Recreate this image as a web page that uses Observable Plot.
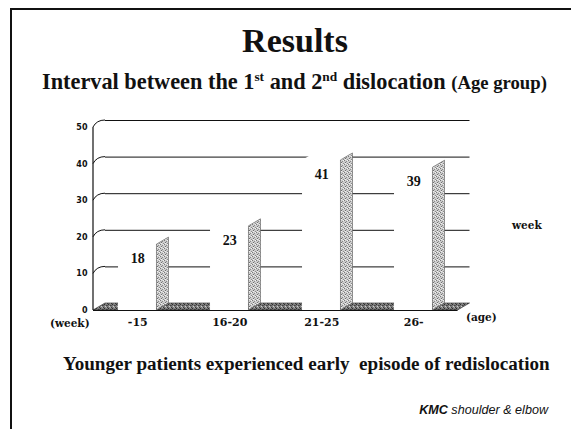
<!DOCTYPE html>
<html><head><meta charset="utf-8">
<script src="https://cdn.jsdelivr.net/npm/d3@7"></script>
<script src="https://cdn.jsdelivr.net/npm/@observablehq/plot@0.6"></script>
<style>
html,body{margin:0;padding:0;background:#fff;}
#page{position:relative;width:571px;height:429px;overflow:hidden;background:#fff;}
#chart{position:absolute;left:0;top:0;}
.t{position:absolute;white-space:pre;line-height:1;color:#111;}
.serif{font-family:"Liberation Serif","Times New Roman",serif;font-weight:bold;}
.dserif{font-family:"DejaVu Serif",serif;font-weight:bold;font-size:10.5px;}
sup{font-size:0.6em;vertical-align:0.6em;line-height:0;}
.bl{position:absolute;background:#111;}
</style></head>
<body><div id="page">
<div class="bl" style="left:10px;top:8px;width:2px;height:421px;"></div>
<div class="bl" style="left:10px;top:8px;width:561px;height:2px;"></div>
<div class="t serif" style="left:295px;top:23.5px;font-size:34px;transform:translateX(-50%);">Results</div>
<div class="t serif" style="left:42px;top:70.6px;font-size:22.3px;">Interval between the 1<sup>st</sup> and 2<sup>nd</sup> dislocation <span style="font-size:18.7px">(Age group)</span></div>
<div class="t dserif" style="left:50px;top:318px;">(week)</div>
<div class="t dserif" style="left:466px;top:312px;">(age)</div>
<div class="t dserif" style="left:512px;top:220px;">week</div>
<div class="t serif" style="left:63px;top:354px;font-size:19.1px;">Younger patients experienced early  episode of redislocation</div>
<div class="t" style="right:23px;top:404.3px;font-size:12.6px;font-family:'Liberation Sans',Arial,sans-serif;font-style:italic;"><b>KMC</b> shoulder &amp; elbow</div>
<div id="chart"></div>
</div>
<script>
// ---- data ----
const categories = ["-15", "16-20", "21-25", "26-"];
const intervals = [18, 23, 41, 39];
const yTicks = [0, 10, 20, 30, 40, 50];

const data = categories.map((c, i) => ({cat: c, value: intervals[i]}));

// 3D depth offset (pixels)
const DX = 12, DY = 7;
const NS = "http://www.w3.org/2000/svg";
function el(tag, attrs) {
  const e = document.createElementNS(NS, tag);
  for (const k in attrs) e.setAttribute(k, attrs[k]);
  return e;
}
function bw(scales) {
  const x = scales.x;
  if (x && typeof x.bandwidth === "function") return x.bandwidth();
  return scales.scales && scales.scales.x ? scales.scales.x.bandwidth : 0;
}

function defsMark() {
  const g = el("g", {});
  const defs = el("defs", {});
  const mk = (id, bg, dots) => {
    const p = el("pattern", {id, width: 4, height: 4, patternUnits: "userSpaceOnUse"});
    p.appendChild(el("rect", {width: 4, height: 4, fill: bg}));
    for (const [x, y, c] of dots) p.appendChild(el("rect", {x, y, width: 1, height: 1, fill: c}));
    defs.appendChild(p);
  };
  mk("side", "#cdcdcd", [[0,0,"#7a7a7a"],[2,1,"#8a8a8a"],[1,2,"#6e6e6e"],[3,3,"#8c8c8c"],[3,0,"#f2f2f2"],[1,3,"#f0f0f0"]]);
  mk("floor", "#7e7e7e", [[0,0,"#2e2e2e"],[2,1,"#444"],[1,2,"#d0d0d0"],[3,3,"#3a3a3a"],[2,3,"#aaa"],[3,1,"#555"]]);
  g.appendChild(defs);
  return g;
}

function wallMark(index, scales, values, dims) {
  const g = el("g", {});
  const y = scales.y, ml = dims.marginLeft;
  const st = {stroke: "#111", "stroke-width": 1.2, fill: "none"};
  // vertical axis line
  g.appendChild(el("line", {x1: ml, x2: ml, y1: y(0), y2: y(yTicks[yTicks.length - 1]), ...st}));
  for (const v of yTicks) {
    if (v === 0) continue;
    const yy = y(v);
    g.appendChild(el("path", {d: `M ${ml} ${yy} Q ${ml + DX * 0.3} ${yy - DY} ${ml + DX} ${yy - DY}`, ...st, "stroke-width": 1}));
  }
  return g;
}

function floorMark(index, scales, values, dims) {
  const y0 = scales.y(0), x0 = dims.marginLeft, x1 = dims.width - dims.marginRight;
  return el("path", {
    d: `M ${x0} ${y0} L ${x1} ${y0} L ${x1 + DX} ${y0 - DY} L ${x0 + DX} ${y0 - DY} Z`,
    fill: "url(#floor)", stroke: "#222", "stroke-width": 0.6
  });
}

function barsMark(index, scales) {
  const g = el("g", {});
  const x = scales.x, y = scales.y, w = bw(scales), y0 = y(0);
  data.forEach(d => {
    const a = x(d.cat), b = a + w, yv = y(d.value);
    g.appendChild(el("path", {d: `M ${a} ${yv} L ${b} ${yv} L ${b + DX} ${yv - DY} L ${a + DX} ${yv - DY} Z`, fill: "#fff"}));
    g.appendChild(el("path", {d: `M ${b} ${y0} L ${b} ${yv} L ${b + DX} ${yv - DY} L ${b + DX} ${y0 - DY} Z`,
      fill: "url(#side)", stroke: "#555", "stroke-width": 0.6}));
  });
  return g;
}

const plot = Plot.plot({
  width: 571,
  height: 429,
  marginLeft: 93,
  marginRight: 113.5,
  marginTop: 127,
  marginBottom: 119,
  style: {background: "transparent", color: "#111"},
  x: {type: "band", domain: categories, paddingInner: 0.582, paddingOuter: 0.272, round: false, label: null},
  y: {domain: [0, 50], label: null},
  marks: [
    defsMark,
    Plot.ruleY(yTicks.filter(v => v > 0), {y: d => d, dx: DX, dy: -DY, stroke: "#111", strokeWidth: 1}),
    floorMark,
    Plot.barY(data, {x: "cat", y: "value", fill: "#fff"}),
    barsMark,
    Plot.ruleY([0], {stroke: "#111", strokeWidth: 1.2}),
    wallMark,
    Plot.axisY({ticks: yTicks, tickSize: 0, tickPadding: 6, fontFamily: "DejaVu Sans", fontWeight: "bold", fontSize: 8, label: null}),
    Plot.axisX({tickSize: 0, tickPadding: 8, fontFamily: "DejaVu Serif", fontWeight: "bold", fontSize: 11, label: null}),
    Plot.text(data, {x: "cat", y: "value", text: d => String(d.value), dy: 14, fontFamily: "Liberation Serif", fontWeight: "bold", fontSize: 14, fill: "#111"})
  ]
});
document.getElementById("chart").appendChild(plot);
</script>
</body></html>
